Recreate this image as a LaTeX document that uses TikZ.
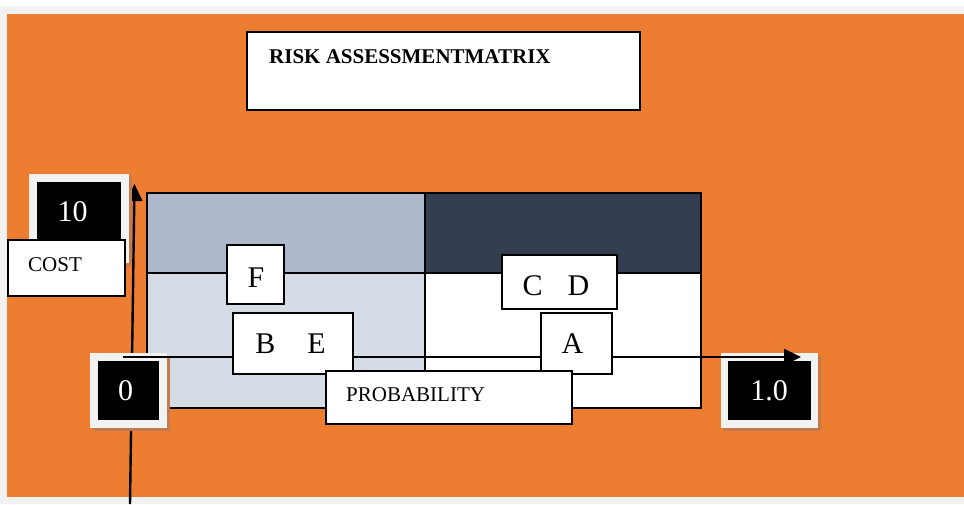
\documentclass[tikz,border=0pt]{standalone}
\usepackage{fontspec}
\setmainfont{Liberation Serif}
\usetikzlibrary{arrows.meta}
\definecolor{orangebg}{HTML}{ED7D31}
\definecolor{pagegray}{HTML}{F2F2F2}
\definecolor{cellA}{HTML}{ADB9CA}
\definecolor{cellB}{HTML}{333F50}
\definecolor{cellC}{HTML}{D6DCE5}
\definecolor{shadowcol}{HTML}{C27A4E}
\begin{document}
\begin{tikzpicture}[x=1pt,y=-1pt,
  wbox/.style={draw=black,fill=white,line width=1.5pt,inner sep=0pt,minimum width=#1},
  frame/.style={fill=pagegray,draw=none,inner sep=0pt},
  blk/.style={fill=black,draw=none,inner sep=0pt},
  bigtxt/.style={font=\fontsize{30}{34}\selectfont,inner sep=0pt},
  smalltxt/.style={font=\fontsize{21}{24}\selectfont,inner sep=0pt},
  axis/.style={draw=black,line width=2.4pt,-{Triangle[length=17pt,width=16pt]}},
  grid/.style={draw=black,line width=1.5pt}]
\useasboundingbox (0,0) rectangle (964,504);
% background
\fill[pagegray] (0,0) rectangle (964,504);
\fill[white] (0,0) rectangle (964,6);
\fill[orangebg] (7,14) rectangle (964,497);
% matrix cells
\fill[cellA] (147,193) rectangle (425,273);
\fill[cellB] (425,193) rectangle (701,273);
\fill[cellC] (147,273) rectangle (425,408);
\fill[white] (425,273) rectangle (701,408);
\draw[grid] (147,193) rectangle (701,408);
\draw[grid] (425,193) -- (425,408);
\draw[grid] (147,273) -- (701,273);
% vertical axis
\coordinate (ybot) at (130,504);
\coordinate (ytop) at (134.5,184);
\draw[axis] (ybot) -- (ytop);
% value boxes
\fill[shadowcol] (32,177) rectangle (132,266);
\node[frame,minimum width=100pt,minimum height=89pt] (tenframe) at (79,218.5) {};
\node[blk,minimum width=84pt,minimum height=73pt] (tenbox) at (79,218.5) {};
\node[bigtxt,text=white,anchor=base] (tentxt) at (72.5,221) {10};
\fill[shadowcol] (93,356) rectangle (170,431);
\node[frame,minimum width=77pt,minimum height=75pt] (zeroframe) at (128.5,390.5) {};
\node[blk,minimum width=61pt,minimum height=59pt] (zerobox) at (128.5,390.5) {};
\node[bigtxt,text=white,anchor=base] (zerotxt) at (125.5,400) {0};
\fill[shadowcol] (724,356) rectangle (821,431);
\node[frame,minimum width=97pt,minimum height=75pt] (oneframe) at (769.5,390.5) {};
\node[blk,minimum width=83pt,minimum height=59pt] (onebox) at (769.5,390.5) {};
\node[bigtxt,text=white,anchor=base] (onetxt) at (769,400) {1.0};
% horizontal axis
\coordinate (xl) at (123,357);
\coordinate (xr) at (801,357);
\draw[axis] (xl) -- (xr);
% white label boxes
\node[wbox=57pt,minimum height=59pt] (fbox) at (255.5,274.5) {};
\node[bigtxt,anchor=base] (ftxt) at (256,287) {F};
\node[wbox=115pt,minimum height=54pt] (cdbox) at (559.5,282) {};
\node[bigtxt,anchor=base] (cdtxt) at (556,295) {C\hspace{25pt}D};
\node[wbox=120pt,minimum height=61pt] (bebox) at (293,343.5) {};
\node[bigtxt,anchor=base] (betxt) at (290.5,353) {B\hspace{32pt}E};
\node[wbox=71pt,minimum height=61pt] (abox) at (576.5,343.5) {};
\node[bigtxt,anchor=base] (atxt) at (572.5,353) {A};
\node[wbox=246pt,minimum height=53pt] (probbox) at (449,397.5) {};
\node[smalltxt,anchor=base west] (probtxt) at (346,401) {PROBABILITY};
\node[wbox=117pt,minimum height=56pt] (costbox) at (66.5,268) {};
\node[smalltxt,anchor=base west] (costtxt) at (28,271) {COST};
\node[wbox=393pt,minimum height=78pt] (titlebox) at (443.5,71) {};
\node[smalltxt,font=\fontsize{21}{24}\selectfont\bfseries,anchor=base west] (titletxt) at (269,63) {RISK ASSESSMENTMATRIX};
\end{tikzpicture}
\end{document}
